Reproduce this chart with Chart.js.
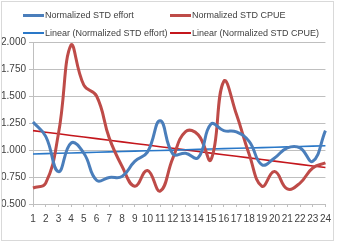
<!DOCTYPE html>
<html>
<head>
<meta charset="utf-8">
<script src="https://cdn.jsdelivr.net/npm/chart.js@4/dist/chart.umd.min.js"></script>
<style>
  html, body { margin: 0; padding: 0; background: #fff; }
  #wrap { position: relative; width: 337px; height: 243px; }
  #legend { position: absolute; left: 0; top: 0; width: 337px; font: 9px "Liberation Sans", Arial, sans-serif; color: #404040; }
  .item { position: absolute; display: flex; align-items: center; white-space: nowrap; line-height: 12px; }
  .item i { display: inline-block; width: 21px; margin-right: 1px; }
</style>
</head>
<body>
<div id="wrap">
  <canvas id="chart" width="337" height="243"></canvas>
  <div id="legend"></div>
</div>
<script>
  // categories (months / periods)
  const labels = ['1','2','3','4','5','6','7','8','9','10','11','12','13','14','15','16','17','18','19','20','21','22','23','24'];

  // series values
  const effort = [1.26, 1.126, 0.80, 1.065, 0.97, 0.72, 0.746, 0.755, 0.895, 0.98, 1.27, 0.963,
                  0.97, 0.93, 1.24, 1.18, 1.167, 1.08, 0.864, 0.926, 1.02, 1.02, 0.895, 1.18];
  const cpue = [0.648, 0.694, 1.15, 1.975, 1.6, 1.5, 1.11, 0.85, 0.665, 0.81, 0.62, 0.925,
                1.17, 1.14, 0.91, 1.635, 1.33, 0.96, 0.665, 0.80, 0.64, 0.694, 0.833, 0.88];

  const yTicks = [0.5, 0.75, 1.0, 1.25, 1.5, 1.75, 2.0];

  // least squares trend, like the spreadsheet trendline
  function linearFit(vals) {
    let n = vals.length, sx = 0, sy = 0, sxy = 0, sxx = 0;
    vals.forEach((v, i) => { let x = i + 1; sx += x; sy += v; sxy += x * v; sxx += x * x; });
    let b = (n * sxy - sx * sy) / (n * sxx - sx * sx);
    let a = (sy - b * sx) / n;
    return vals.map((v, i) => a + b * (i + 1));
  }

  const series = [
    { label: 'Normalized STD effort', data: effort, color: '#4a7ebb', width: 3, tension: 0.45 },
    { label: 'Normalized STD CPUE', data: cpue, color: '#be4b48', width: 3, tension: 0.45 },
    { label: 'Linear (Normalized STD effort)', data: linearFit(effort), color: '#2a78c8', width: 1.6, tension: 0 },
    { label: 'Linear (Normalized STD CPUE)', data: linearFit(cpue), color: '#c4161c', width: 1.6, tension: 0 }
  ];

  // legend, two columns like the original
  const legendPos = [[23, 9], [170, 9], [23, 27], [170, 27]];
  let legend = document.getElementById('legend');
  series.forEach((s, i) => {
    let el = document.createElement('div');
    el.className = 'item';
    el.style.left = legendPos[i][0] + 'px';
    el.style.top = legendPos[i][1] + 'px';
    el.innerHTML = `<i style="height:${s.width > 2 ? 3 : 2}px;background:${s.color}"></i>`;
    el.appendChild(document.createTextNode(s.label));
    legend.appendChild(el);
  });

  const border = {
    id: 'border',
    afterDraw(chart) {
      let ctx = chart.ctx;
      ctx.save();
      ctx.strokeStyle = '#d9d9d9';
      ctx.lineWidth = 1;
      ctx.strokeRect(1.5, 1.5, 332, 239);
      ctx.restore();
    }
  };

  const font = { family: '"Liberation Sans", Arial, sans-serif', size: 10 };

  new Chart(document.getElementById('chart').getContext('2d'), {
    type: 'line',
    data: {
      labels: labels,
      datasets: series.map(s => ({
        label: s.label,
        data: s.data,
        borderColor: s.color,
        backgroundColor: s.color,
        borderWidth: s.width,
        tension: s.tension,
        pointRadius: 0,
        fill: false
      }))
    },
    options: {
      responsive: false,
      animation: false,
      layout: { padding: { top: 42, right: 10, bottom: 0, left: 0 } },
      plugins: { legend: { display: false }, tooltip: { enabled: false } },
      scales: {
        x: {
          afterFit: s => { s.height = 39; },
          grid: { drawOnChartArea: false, drawTicks: true, tickLength: 3, color: '#bfbfbf' },
          border: { color: '#bfbfbf' },
          ticks: { font: font, color: '#404040', padding: 6, maxRotation: 0, autoSkip: false }
        },
        y: {
          min: 0.5,
          max: 2.0,
          afterFit: s => { s.width = 33; },
          afterBuildTicks: s => { s.ticks = yTicks.map(v => ({ value: v })); },
          grid: { color: '#bfbfbf', tickLength: 4 },
          border: { color: '#bfbfbf' },
          ticks: { font: font, color: '#404040', padding: 3, callback: v => v.toFixed(3) }
        }
      }
    },
    plugins: [border]
  });
</script>
</body>
</html>
